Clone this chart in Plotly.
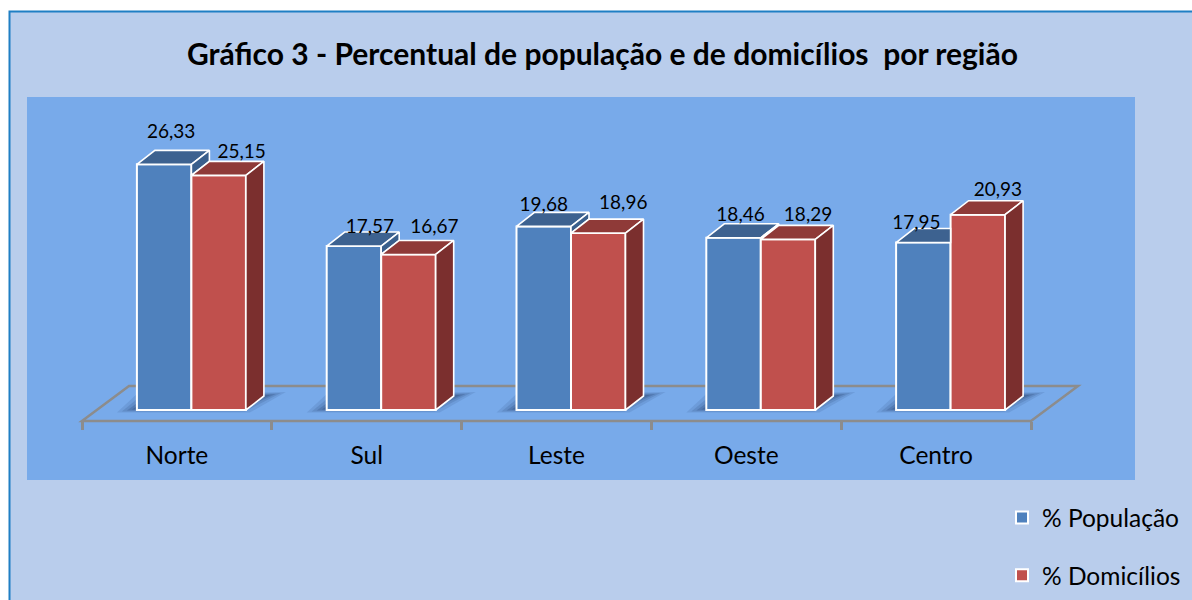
import plotly.graph_objects as go

categories = ["Norte", "Sul", "Leste", "Oeste", "Centro"]
populacao = [26.33, 17.57, 19.68, 18.46, 17.95]
domicilios = [25.15, 16.67, 18.96, 18.29, 20.93]
serie_pop = "% População"
serie_dom = "% Domicílios"
titulo = "Gráfico 3 - Percentual de população e de domicílios  por região"

# scale of the drawing (pixels per data unit) and the fake 3D depth, in pixels
W, H = 1192, 600
PX_X, PX_Y = 189.8, 9.33
L, R, T, B = 27, 1135, 97, 480
TICK0, BASE_PX, AXIS_PX = 82, 410, 421
SHIFT = 14.5 / PX_X
BW = 54.5 / PX_X
DX, DY = 18 / PX_X, 14 / PX_Y
FX, FY = 47 / PX_X, 35 / PX_Y
FLOOR_Y = -(AXIS_PX - BASE_PX) / PX_Y


def fx(px):
    return (px - L) / (R - L)


def fy(py):
    return 1 - (py - T) / (B - T)


# manual label nudges (pixels from bar top centre)
pop_nudge = [(7, 31), (16, 18), (0, 20), (7, 22), (-7, 18)]
dom_nudge = [(23, 22), (26, 26), (25, 29), (20, 23), (20, 23)]

C_POP, C_POP_TOP, C_POP_SIDE = "#4F81BD", "#3D6290", "#3A5F8C"
C_DOM, C_DOM_TOP, C_DOM_SIDE = "#C0504D", "#8F3A38", "#7B2F2E"
FONT = "Lato"

x_range = [(L - TICK0) / PX_X - 0.5, (R - TICK0) / PX_X - 0.5]
y_range = [-(B - BASE_PX) / PX_Y, (BASE_PX - T) / PX_Y]
idx = list(range(len(categories)))

fig = go.Figure()


def common_bar(name, vals, color, offset, group):
    return go.Bar(
        x=idx, y=vals, name=name, width=BW, offset=offset,
        marker=dict(color=color, line=dict(color="white", width=2)),
        legendgroup=group, hovertemplate="%{y}<extra>" + name + "</extra>",
    )


fig.add_trace(common_bar(serie_pop, populacao, C_POP, SHIFT - BW, "a"))
fig.add_trace(common_bar(serie_dom, domicilios, C_DOM, SHIFT, "b"))


def poly(xs, ys, color):
    fig.add_trace(go.Scatter(
        x=xs + xs[:1], y=ys + ys[:1], mode="lines", fill="toself", fillcolor=color,
        line=dict(color="white", width=1.6), showlegend=False, hoverinfo="skip",
    ))


for i in idx:
    p, d = populacao[i], domicilios[i]
    xl, xm, xr = i + SHIFT - BW, i + SHIFT, i + SHIFT + BW
    if p > d:
        poly([xl, xm, xm + DX, xl + DX], [p, p, p + DY, p + DY], C_POP_TOP)
        poly([xm, xm + DX, xm + DX, xm], [p, p + DY, d + DY, d], C_POP_SIDE)
    else:
        # the taller front bar hides the right end of this top face
        poly([xl, xm, xm, xl + DX], [p, p, p + DY, p + DY], C_POP_TOP)
    poly([xm, xr, xr + DX, xm + DX], [d, d, d + DY, d + DY], C_DOM_TOP)
    poly([xr, xr + DX, xr + DX, xr], [d, d + DY, DY, 0], C_DOM_SIDE)

for vals, nudge, off in ((populacao, pop_nudge, SHIFT - BW / 2), (domicilios, dom_nudge, SHIFT + BW / 2)):
    fig.add_trace(go.Scatter(
        x=[i + off + nudge[i][0] / PX_X for i in idx],
        y=[vals[i] + nudge[i][1] / PX_Y for i in idx],
        text=[f"{v:.2f}".replace(".", ",") for v in vals],
        mode="text", textposition="middle center",
        textfont=dict(family=FONT, size=19, color="black"),
        showlegend=False, hoverinfo="skip",
    ))


def path(pts):
    return "M" + "L".join(f"{a},{b}" for a, b in pts) + "Z"


shapes = [
    dict(type="rect", xref="paper", yref="paper", x0=fx(9.5), x1=fx(W + 6), y0=fy(H + 6), y1=fy(11.5),
         fillcolor="#B9CDEC", line=dict(color="#1F7FC4", width=2), layer="below"),
    dict(type="rect", xref="paper", yref="paper", x0=0, x1=1, y0=0, y1=1,
         fillcolor="#78AAEA", line=dict(width=0), layer="below"),
]
n = len(categories)
floor = [(-0.5, FLOOR_Y), (n - 0.5, FLOOR_Y), (n - 0.5 + FX, FLOOR_Y + FY), (-0.5 + FX, FLOOR_Y + FY)]
shapes.append(dict(type="path", xref="x", yref="y", path=path(floor), layer="below",
                   line=dict(color="#8C8C8C", width=2.5), fillcolor="rgba(0,0,0,0)"))
for i in idx:
    xl, xr = i + SHIFT - BW, i + SHIFT + BW
    for k, op in ((0, 0.12), (1, 0.16), (2, 0.22), (3, 0.28)):
        inset = k * 5 / PX_X
        up = k * 1 / PX_Y
        shapes.append(dict(
            type="path", xref="x", yref="y", layer="below", line=dict(width=0),
            fillcolor=f"rgba(35,60,105,{op})",
            path=path([(xl - 20 / PX_X + inset, -2.5 / PX_Y + up), (xr + 4 / PX_X - inset, -2.5 / PX_Y + up),
                       (xr + 40 / PX_X - inset, 18 / PX_Y - up), (xl + inset, 16 / PX_Y - up)]),
        ))

fig.update_layout(
    width=W, height=H, autosize=False,
    margin=dict(l=L, r=W - R, t=T, b=H - B, pad=0, autoexpand=False),
    paper_bgcolor="white", plot_bgcolor="rgba(0,0,0,0)",
    barmode="overlay", shapes=shapes,
    font=dict(family=FONT, color="black"),
    title=dict(text="<b>" + titulo + "</b>", x=602.5 / W, xanchor="center", xref="container",
               y=1 - 54 / H, yref="container", yanchor="middle",
               font=dict(family=FONT, size=30, color="black")),
    xaxis=dict(range=x_range, anchor="free", position=fy(AXIS_PX), showgrid=False, zeroline=False,
               showline=False, tickmode="array", tickvals=idx, ticktext=categories, ticks="",
               ticklabelstandoff=17, tickfont=dict(family=FONT, size=24.5, color="black"),
               minor=dict(tickmode="array", tickvals=[i - 0.5 for i in range(n + 1)], ticks="outside",
                          ticklen=8, tickwidth=2.5, tickcolor="#8C8C8C", showgrid=False)),
    yaxis=dict(range=y_range, visible=False, showgrid=False, zeroline=False),
    legend=dict(x=fx(1002), xanchor="left", y=fy(495), yanchor="top", bgcolor="rgba(0,0,0,0)",
                font=dict(family=FONT, size=24.5, color="black"), tracegroupgap=23,
                traceorder="grouped"),
    hovermode="closest",
)
fig.write_html("out.html", config=dict(displayModeBar=False),
               post_script="document.body.style.margin='0';document.body.style.overflow='hidden';")
